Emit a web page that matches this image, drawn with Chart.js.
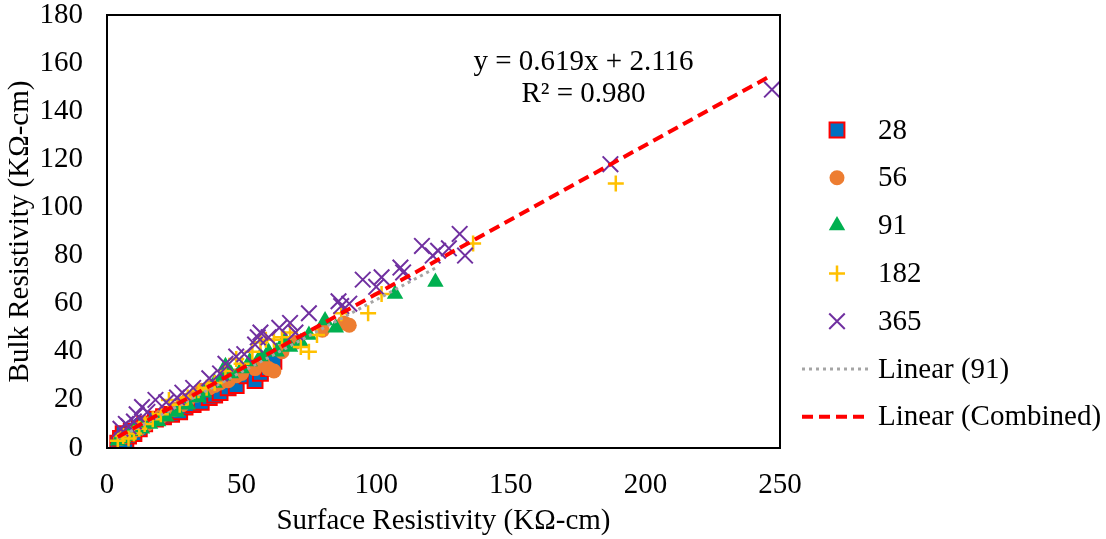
<!DOCTYPE html>
<html>
<head>
<meta charset="utf-8">
<script src="https://cdn.jsdelivr.net/npm/chart.js@4.4.1/dist/chart.umd.min.js"></script>
<style>
  html, body { margin: 0; padding: 0; background: #fff; }
</style>
</head>
<body>
<canvas id="resChart" width="1106" height="539"></canvas>
<script>
// surface vs bulk resistivity, by age (days)
const surf28 = [4, 5, 6, 7, 8, 9, 10, 12, 14, 18, 21, 24, 27, 29, 32, 35, 38, 40, 42, 45, 48, 52, 55, 57, 60, 62];
const bulk28 = [2, 4, 6, 3, 5, 7, 6, 8, 10, 12, 13, 14, 15, 17, 18, 19, 21, 22, 23, 25, 26, 30, 28, 31, 33, 36];

const surf56 = [5, 7, 9, 12, 15, 20, 25, 28, 30, 33, 35, 38, 40, 42, 45, 48, 50, 55, 58, 60, 62, 65, 70, 80, 88, 90];
const bulk56 = [4, 5, 6, 8, 10, 13, 16, 18, 20, 22, 24, 25, 26, 27, 28, 30, 31, 33, 35, 33, 32, 40, 44, 49, 52, 51];

const surf91 = [4, 6, 8, 10, 13, 16, 19, 22, 26, 30, 34, 36, 40, 43, 44, 46, 50, 53, 57, 60, 63, 66, 68, 72, 75, 81, 85, 107, 122];
const bulk91 = [3, 4, 5, 7, 8, 10, 11, 13, 15, 18, 21, 23, 27, 30, 34, 31, 33, 36, 38, 40, 40, 45, 42, 44, 47, 53, 50, 64, 69];

const surf182 = [4, 6, 8, 10, 12, 14, 17, 20, 23, 27, 30, 34, 37, 40, 44, 48, 50, 54, 57, 59, 62, 65, 68, 72, 75, 78, 87, 97, 102, 136, 189];
const bulk182 = [3, 5, 4, 6, 8, 10, 12, 14, 20, 18, 21, 24, 25, 27, 32, 37, 35, 40, 44, 45, 45, 46, 48, 42, 40, 47, 56, 56, 64, 85, 110];

const surf365 = [5, 7, 8, 10, 11, 13, 15, 18, 22, 26, 28, 32, 38, 42, 44, 48, 51, 55, 56, 57, 60, 64, 68, 70, 75, 86, 87, 90, 95, 100, 102, 109, 110, 117, 121, 123, 127, 131, 133, 187, 247];
const bulk365 = [8, 10, 9, 11, 14, 17, 15, 20, 19, 21, 23, 25, 29, 31, 35, 38, 39, 43, 46, 48, 46, 50, 52, 48, 56, 61, 59, 60, 70, 67, 71, 75, 73, 84, 80, 82, 83, 89, 80, 118, 149];

// combined fit as printed on the chart
const fitSlope = 0.619;
const fitIntercept = 2.116;
const fitLabel = ['y = 0.619x + 2.116', 'R² = 0.980'];

const xTicksMax = 250;
const yTicksMax = 180;

const FONT = 'Liberation Serif, Times New Roman, serif';

const pts = (xs, ys) => xs.map((x, i) => ({ x, y: ys[i] }));

function linFit(xs, ys) {
  const n = xs.length;
  const mx = xs.reduce((a, b) => a + b, 0) / n;
  const my = ys.reduce((a, b) => a + b, 0) / n;
  let sxy = 0, sxx = 0;
  xs.forEach((x, i) => { sxy += (x - mx) * (ys[i] - my); sxx += (x - mx) * (x - mx); });
  const m = sxy / sxx;
  return { m, b: my - m * mx };
}

const fit91 = linFit(surf91, bulk91);
const min91 = Math.min(...surf91), max91 = Math.max(...surf91);
const trend91 = [min91, max91].map(x => ({ x, y: fit91.m * x + fit91.b }));

const allSurf = [].concat(surf28, surf56, surf91, surf182, surf365);
const trendAll = [Math.min(...allSurf), Math.max(...allSurf)].map(x => ({ x, y: fitSlope * x + fitIntercept }));

const series = [
  { label: '28',  data: pts(surf28, bulk28),   pointStyle: 'rect',     pointRadius: 10.5, backgroundColor: '#0070C0', borderColor: '#FF0000', borderWidth: 2,   order: 10 },
  { label: '56',  data: pts(surf56, bulk56),   pointStyle: 'circle',   pointRadius: 7.5,  backgroundColor: '#ED7D31', borderColor: '#ED7D31', borderWidth: 0,   order: 9 },
  { label: '91',  data: pts(surf91, bulk91),   pointStyle: 'triangle', pointRadius: 9.5,  backgroundColor: '#00B050', borderColor: '#00B050', borderWidth: 0,   order: 8 },
  { label: '182', data: pts(surf182, bulk182), pointStyle: 'cross',    pointRadius: 8,    backgroundColor: '#FFC000', borderColor: '#FFC000', borderWidth: 2.5, order: 7 },
  { label: '365', data: pts(surf365, bulk365), pointStyle: 'crossRot', pointRadius: 11,   backgroundColor: '#7030A0', borderColor: '#7030A0', borderWidth: 2,   order: 6 },
];

const lines = [
  { label: 'Linear (91)', data: trend91, showLine: true, pointRadius: 0, borderColor: '#A5A5A5', borderWidth: 3, borderDash: [3, 4], order: 2 },
  { label: 'Linear (Combined)', data: trendAll, showLine: true, pointRadius: 0, borderColor: '#FF0000', borderWidth: 4, borderDash: [11, 6], order: 1 },
];

// frame, equation text and the legend at the right
const extras = {
  id: 'extras',
  afterDraw(chart) {
    const { ctx, chartArea: a, scales } = chart;
    ctx.save();
    ctx.strokeStyle = '#000';
    ctx.lineWidth = 2;
    ctx.strokeRect(a.left, a.top, a.right - a.left, a.bottom - a.top);

    ctx.fillStyle = '#000';
    ctx.font = '29px ' + FONT;
    ctx.textAlign = 'center';
    ctx.textBaseline = 'middle';
    const ex = scales.x.getPixelForValue(177);
    ctx.fillText(fitLabel[0], ex, scales.y.getPixelForValue(160.5));
    ctx.fillText(fitLabel[1], ex, scales.y.getPixelForValue(147));

    const mx = a.right + 57, tx = a.right + 98;
    let ly = 130;
    const step = 47.8;
    series.forEach(s => {
      ctx.fillStyle = s.backgroundColor;
      ctx.strokeStyle = s.borderColor;
      ctx.lineWidth = s.borderWidth;
      Chart.helpers.drawPoint(ctx, { pointStyle: s.pointStyle, radius: s.pointRadius, rotation: 0, borderWidth: s.borderWidth }, mx, ly);
      ctx.fillStyle = '#000';
      ctx.textAlign = 'left';
      ctx.fillText(s.label, tx, ly + 1);
      ly += step;
    });
    lines.forEach(l => {
      ctx.strokeStyle = l.borderColor;
      ctx.lineWidth = l.borderWidth;
      ctx.setLineDash(l.borderDash);
      ctx.beginPath();
      ctx.moveTo(a.right + 22, ly);
      ctx.lineTo(a.right + 90, ly);
      ctx.stroke();
      ctx.setLineDash([]);
      ctx.fillStyle = '#000';
      ctx.fillText(l.label, tx, ly + 1);
      ly += step;
    });
    ctx.restore();
  }
};

new Chart(document.getElementById('resChart').getContext('2d'), {
  type: 'scatter',
  data: { datasets: [...series, ...lines] },
  options: {
    responsive: false,
    animation: false,
    devicePixelRatio: 1,
    layout: { padding: { top: 15, right: 326, left: 0, bottom: 0 } },
    plugins: { legend: { display: false }, tooltip: { enabled: false } },
    scales: {
      x: {
        type: 'linear', min: 0, max: xTicksMax,
        ticks: { stepSize: 50, color: '#000', font: { family: FONT, size: 29 }, padding: 20, maxRotation: 0 },
        grid: { display: false, drawTicks: false },
        border: { display: false },
        title: { display: true, text: 'Surface Resistivity (KΩ-cm)', color: '#000', font: { family: FONT, size: 29 }, padding: { top: 0, bottom: 0 } },
        afterFit: s => { s.height = 91; s.paddingLeft = 0; s.paddingRight = 0; },
      },
      y: {
        type: 'linear', min: 0, max: yTicksMax,
        ticks: { stepSize: 20, color: '#000', font: { family: FONT, size: 29 }, padding: 24 },
        grid: { display: false, drawTicks: false },
        border: { display: false },
        title: { display: true, text: 'Bulk Resistivity (KΩ-cm)', color: '#000', font: { family: FONT, size: 29 }, padding: { top: 3, bottom: 0 } },
        afterFit: s => { s.width = 107; s.paddingTop = 0; s.paddingBottom = 0; },
      },
    },
  },
  plugins: [extras],
});
</script>
</body>
</html>
